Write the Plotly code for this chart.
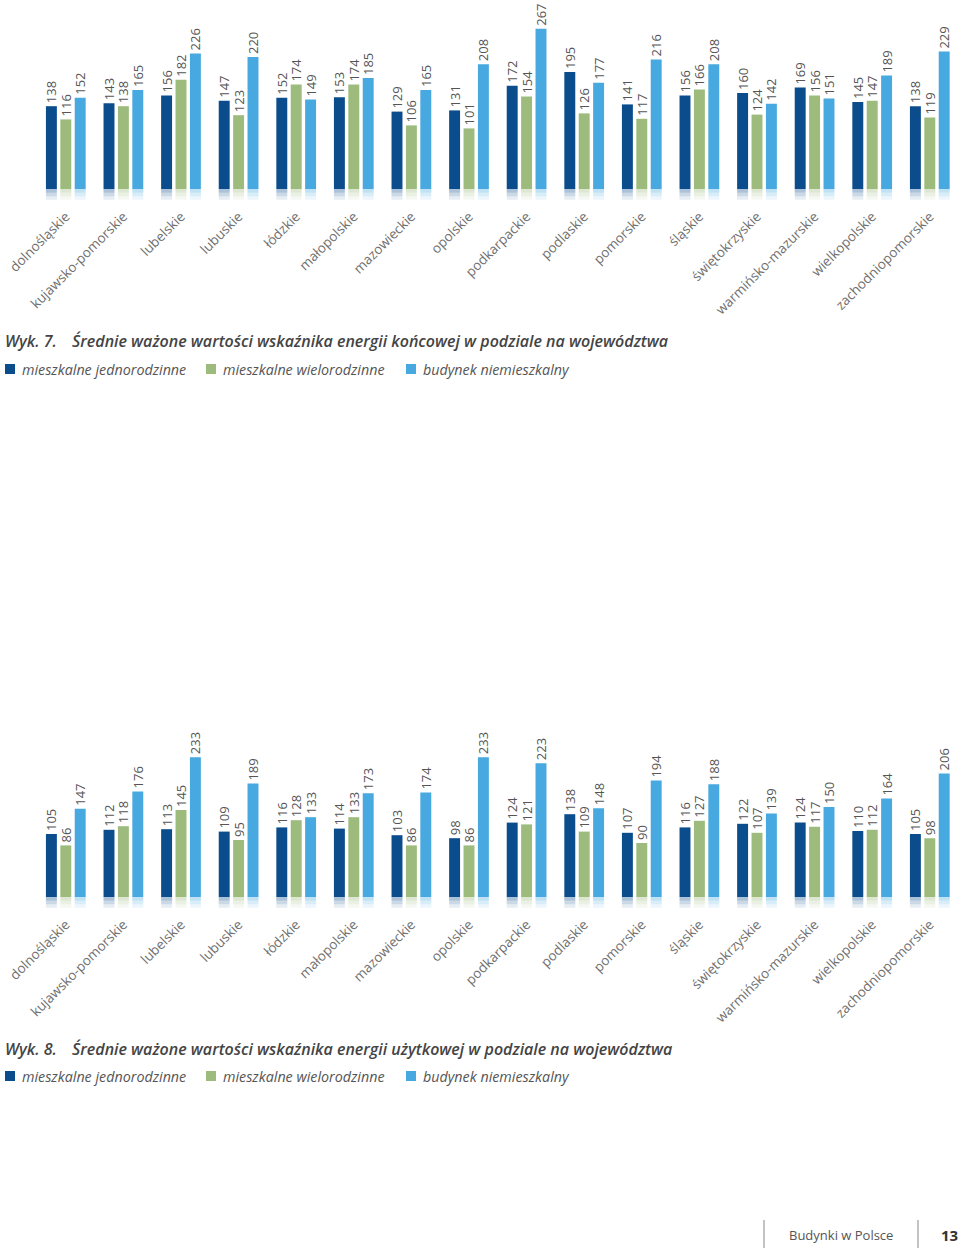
import plotly.graph_objects as go

W, H = 960, 1250

regions = ["dolnośląskie", "kujawsko-pomorskie", "lubelskie", "lubuskie", "łódzkie",
           "małopolskie", "mazowieckie", "opolskie", "podkarpackie", "podlaskie",
           "pomorskie", "śląskie", "świętokrzyskie", "warmińsko-mazurskie",
           "wielkopolskie", "zachodniopomorskie"]

series_names = ["mieszkalne jednorodzinne", "mieszkalne wielorodzinne", "budynek niemieszkalny"]

koncowa_jedno = [138, 143, 156, 147, 152, 153, 129, 131, 172, 195, 141, 156, 160, 169, 145, 138]
koncowa_wielo = [116, 138, 182, 123, 174, 174, 106, 101, 154, 126, 117, 166, 124, 156, 147, 119]
koncowa_niem = [152, 165, 226, 220, 149, 185, 165, 208, 267, 177, 216, 208, 142, 151, 189, 229]

uzytk_jedno = [105, 112, 113, 109, 116, 114, 103, 98, 124, 138, 107, 116, 122, 124, 110, 105]
uzytk_wielo = [86, 118, 145, 95, 128, 133, 86, 86, 121, 109, 90, 127, 107, 117, 112, 98]
uzytk_niem = [147, 176, 233, 189, 133, 173, 174, 233, 223, 148, 194, 188, 139, 150, 164, 206]

title7 = "Średnie ważone wartości wskaźnika energii końcowej w podziale na województwa"
title8 = "Średnie ważone wartości wskaźnika energii użytkowej w podziale na województwa"

colors = ["#0b4c8c", "#9dbb7c", "#47a9e0"]
offsets = [-0.25, 0.0, 0.25]
BW = 0.19
FONT = "Open Sans"

fig = go.Figure()


def add_chart(values, xa, ya):
    for k, vals in enumerate(values):
        # soft reflection below the baseline (decorative)
        for depth, op in [(18, 0.10), (12, 0.12), (6, 0.16)]:
            fig.add_trace(go.Bar(
                x=regions, y=[-depth] * len(regions), xaxis=xa, yaxis=ya,
                width=BW, offset=offsets[k] - BW / 2,
                marker=dict(color=colors[k], opacity=op, line_width=0),
                showlegend=False, hoverinfo="skip"))
        fig.add_trace(go.Bar(
            x=regions, y=vals, xaxis=xa, yaxis=ya, name=series_names[k],
            width=BW, offset=offsets[k] - BW / 2,
            marker=dict(color=colors[k], line_width=0),
            text=[str(v) for v in vals], textposition="outside", textangle=-90,
            constraintext="none", cliponaxis=False,
            textfont=dict(family=FONT, size=13, color="#555555"),
            showlegend=False))


add_chart([koncowa_jedno, koncowa_wielo, koncowa_niem], "x", "y")
add_chart([uzytk_jedno, uzytk_wielo, uzytk_niem], "x2", "y2")


def py(pix):
    return 1 - pix / H


scale = 0.6  # px per unit
base1, base2 = 189, 897

xdom = [37 / W, 958.6 / W]
axis_x = dict(domain=xdom, range=[-0.5, 15.5], autorange=False, automargin=False,
              showgrid=False, zeroline=False, showline=False, ticks="",
              tickangle=-45, ticklabelstandoff=4,
              tickfont=dict(family=FONT, size=13.5, color="#707070"))
axis_y = dict(showgrid=False, zeroline=False, showticklabels=False, automargin=False,
              showline=False, ticks="")

fig.update_layout(
    width=W, height=H, margin=dict(l=0, r=0, t=0, b=0, autoexpand=False),
    paper_bgcolor="white", plot_bgcolor="white", barmode="overlay",
    xaxis=dict(axis_x, anchor="y"),
    xaxis2=dict(axis_x, anchor="y2"),
    yaxis=dict(axis_y, range=[-20, base1 / scale], domain=[py(base1 + 20 * scale), 1.0], anchor="x"),
    yaxis2=dict(axis_y, range=[-20, 315], domain=[py(base2 + 20 * scale), py(base2 - 315 * scale)], anchor="x2"),
)

annotations = []
shapes = []


def add_caption(label, title, ytitle, ylegend):
    annotations.append(dict(x=3 / W, y=py(ytitle), xref="paper", yref="paper", xanchor="left",
                            yanchor="middle", showarrow=False, text=label,
                            font=dict(family=FONT, size=16, color="#444444", style="italic", weight=600)))
    annotations.append(dict(x=70 / W, y=py(ytitle), xref="paper", yref="paper", xanchor="left",
                            yanchor="middle", showarrow=False, text=title,
                            font=dict(family=FONT, size=16, color="#444444", style="italic", weight=600)))
    for k, xs in enumerate([5, 206, 406]):
        shapes.append(dict(type="rect", xref="paper", yref="paper",
                           x0=xs / W, x1=(xs + 10) / W, y0=py(ylegend + 5), y1=py(ylegend - 5),
                           fillcolor=colors[k], line_width=0))
        annotations.append(dict(x=(xs + 15) / W, y=py(ylegend), xref="paper", yref="paper",
                                xanchor="left", yanchor="middle", showarrow=False,
                                text=series_names[k],
                                font=dict(family=FONT, size=14.3, color="#555555", style="italic")))


add_caption("Wyk. 7.", title7, 341, 369)
add_caption("Wyk. 8.", title8, 1049, 1076)

# footer
shapes.append(dict(type="line", xref="paper", yref="paper", x0=764 / W, x1=764 / W,
                   y0=py(1248), y1=py(1220), line=dict(color="#888888", width=1)))
shapes.append(dict(type="line", xref="paper", yref="paper", x0=918 / W, x1=918 / W,
                   y0=py(1248), y1=py(1220), line=dict(color="#888888", width=1)))
annotations.append(dict(x=841 / W, y=py(1235), xref="paper", yref="paper", xanchor="center",
                        yanchor="middle", showarrow=False, text="Budynki w Polsce",
                        font=dict(family=FONT, size=13, color="#555555")))
annotations.append(dict(x=949 / W, y=py(1235), xref="paper", yref="paper", xanchor="center",
                        yanchor="middle", showarrow=False, text="13",
                        font=dict(family=FONT, size=15, color="#333333", weight="bold")))

fig.update_layout(annotations=annotations, shapes=shapes)

fig.write_html("out.html")
